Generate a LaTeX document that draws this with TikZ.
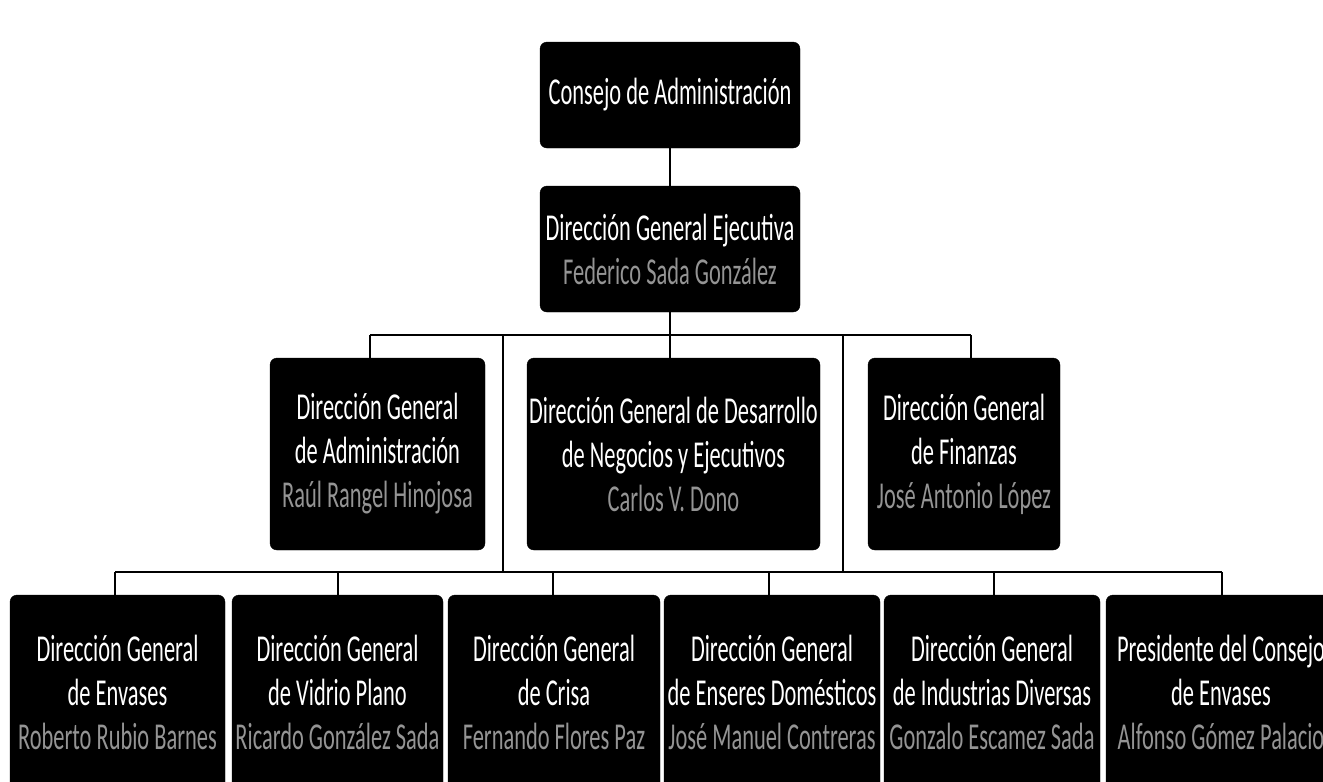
\documentclass[tikz,border=0pt]{standalone}
\usepackage{fontspec}
\setmainfont{Carlito}[FakeStretch=0.59]
\begin{document}
\begin{tikzpicture}[x=1pt,y=-1pt,
  box/.style={fill=black,draw=black,rounded corners=7pt,align=center,text=white,
    font=\fontsize{38}{44}\selectfont,inner sep=0pt},
  conn/.style={draw=black,line width=1.8pt}]
\clip (0,0) rectangle (1323,782);
\fill[white] (0,0) rectangle (1323,782);
% nodes
\node[box,minimum width=260,minimum height=106] (top) at (670,95) {Consejo de Administración};
\node[box,minimum width=260,minimum height=126] (dge) at (670,249) {Dirección General Ejecutiva\\{\color{black!42}Federico Sada González}};
\node[box,minimum width=215,minimum height=192] (adm) at (377.5,454) {Dirección General\\de Administración\\{\color{black!42}Raúl Rangel Hinojosa}};
\node[box,minimum width=293,minimum height=192] (des) at (673.5,454) {Dirección General de Desarrollo\\de Negocios y Ejecutivos\\{\color{black!42}Carlos V. Dono}};
\node[box,minimum width=192,minimum height=192] (fin) at (964,454) {Dirección General\\de Finanzas\\{\color{black!42}José Antonio López}};
\node[box,minimum width=215,minimum height=194] (b1) at (117.5,692) {Dirección General\\de Envases\\{\color{black!42}Roberto Rubio Barnes}};
\node[box,minimum width=211,minimum height=194] (b2) at (337.5,692) {Dirección General\\de Vidrio Plano\\{\color{black!42}Ricardo González Sada}};
\node[box,minimum width=212,minimum height=194] (b3) at (554,692) {Dirección General\\de Crisa\\{\color{black!42}Fernando Flores Paz}};
\node[box,minimum width=216,minimum height=194] (b4) at (772,692) {Dirección General\\de Enseres Domésticos\\{\color{black!42}José Manuel Contreras}};
\node[box,minimum width=216,minimum height=194] (b5) at (992,692) {Dirección General\\de Industrias Diversas\\{\color{black!42}Gonzalo Escamez Sada}};
\node[box,minimum width=230,minimum height=194] (b6) at (1221,692) {Presidente del Consejo\\de Envases\\{\color{black!42}Alfonso Gómez Palacio}};
% bus coordinates
\coordinate (u0) at (670,335);
\coordinate (u1) at (370,335);
\coordinate (u2) at (503,335);
\coordinate (u4) at (843,335);
\coordinate (u5) at (971,335);
\coordinate (l1) at (115,572);
\coordinate (l2) at (338,572);
\coordinate (l3) at (553,572);
\coordinate (l4) at (769,572);
\coordinate (l5) at (994,572);
\coordinate (l6) at (1222,572);
\coordinate (m2) at (503,572);
\coordinate (m4) at (843,572);
% connectors
\draw[conn] (top.south) -- (dge.north);
\draw[conn] (dge.south) -- (u0);
\draw[conn] (u1) -- (u5);
\draw[conn] (u1) -- (adm.north -| u1);
\draw[conn] (u0) -- (des.north -| u0);
\draw[conn] (u5) -- (fin.north -| u5);
\draw[conn] (u2) -- (m2);
\draw[conn] (u4) -- (m4);
\draw[conn] (l1) -- (l6);
\draw[conn] (l1) -- (b1.north -| l1);
\draw[conn] (l2) -- (b2.north -| l2);
\draw[conn] (l3) -- (b3.north -| l3);
\draw[conn] (l4) -- (b4.north -| l4);
\draw[conn] (l5) -- (b5.north -| l5);
\draw[conn] (l6) -- (b6.north -| l6);
\end{tikzpicture}
\end{document}
